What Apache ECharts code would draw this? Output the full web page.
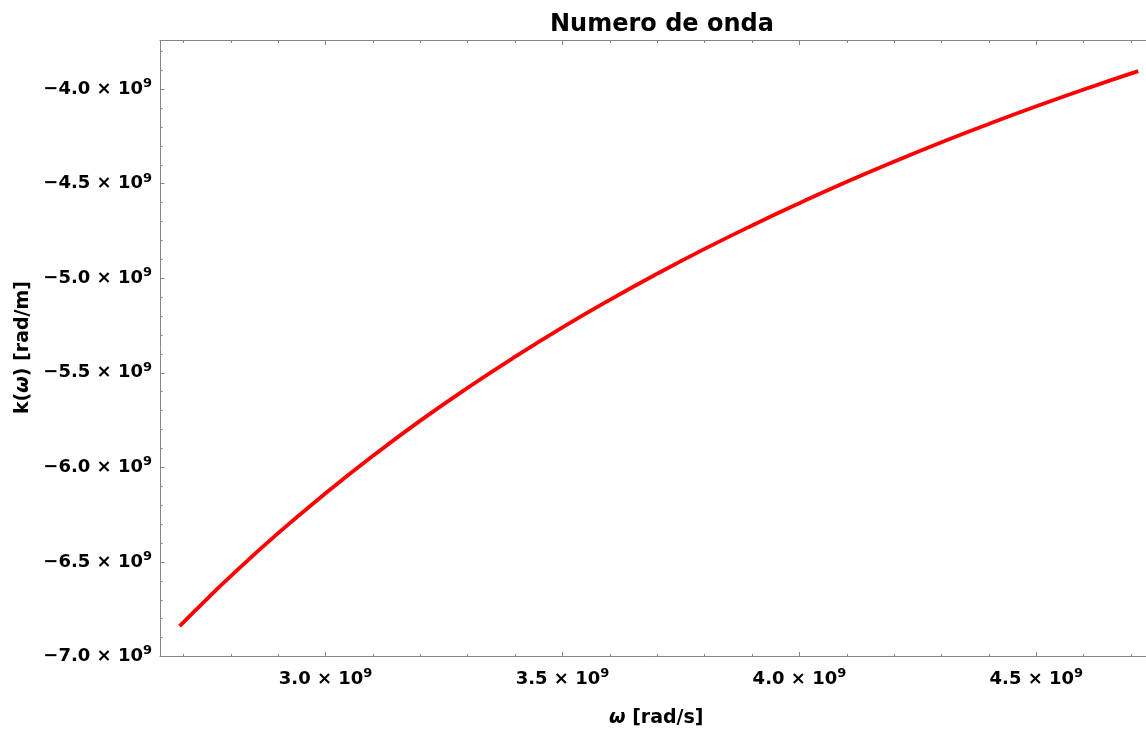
<!DOCTYPE html>
<html>
<head>
<meta charset="utf-8">
<script src="https://cdn.jsdelivr.net/npm/echarts@6/dist/echarts.min.js"></script>
<style>
html, body { margin: 0; padding: 0; background: #ffffff; overflow: hidden; width: 1146px; height: 731px; }
#chart { width: 1146px; height: 731px; overflow: hidden; }
</style>
</head>
<body>
<div id="chart"></div>
<script>
// ---- data ----
const omega = [2.692e9, 2.75e9, 2.8e9, 2.9e9, 3.0e9, 3.1e9, 3.2e9, 3.3e9, 3.4e9, 3.5e9, 3.6e9,
               3.7e9, 3.8e9, 3.9e9, 4.0e9, 4.1e9, 4.2e9, 4.3e9, 4.4e9, 4.5e9, 4.6e9, 4.715e9];
const kOmega = [-6.839e9, -6.695e9, -6.575e9, -6.348e9, -6.137e9, -5.939e9, -5.753e9, -5.579e9,
                -5.415e9, -5.260e9, -5.114e9, -4.976e9, -4.845e9, -4.721e9, -4.603e9, -4.490e9,
                -4.383e9, -4.281e9, -4.184e9, -4.091e9, -4.002e9, -3.905e9];

const xMajorTicks = [3.0e9, 3.5e9, 4.0e9, 4.5e9];
const xMinorTicks = [2.7e9, 2.8e9, 2.9e9, 3.1e9, 3.2e9, 3.3e9, 3.4e9, 3.6e9, 3.7e9, 3.8e9, 3.9e9,
                     4.1e9, 4.2e9, 4.3e9, 4.4e9, 4.6e9, 4.7e9];
const yMajorTicks = [-7.0e9, -6.5e9, -6.0e9, -5.5e9, -5.0e9, -4.5e9, -4.0e9];
const yMinorTicks = [-6.9e9, -6.8e9, -6.7e9, -6.6e9, -6.4e9, -6.3e9, -6.2e9, -6.1e9, -5.9e9, -5.8e9,
                     -5.7e9, -5.6e9, -5.4e9, -5.3e9, -5.2e9, -5.1e9, -4.9e9, -4.8e9, -4.7e9, -4.6e9,
                     -4.4e9, -4.3e9, -4.2e9, -4.1e9, -3.9e9, -3.8e9];

const xRange = [2.6506e9, 4.7314e9];
const yRange = [-7.0e9, -3.743e9];

const titleText = 'Numero de onda';
const xAxisName = '{i|ω} {n|[rad/s]}';
const yAxisName = '{n|k(}{i|ω}{n|) [rad/m]}';

// ---- chart ----
const FONT = 'DejaVu Sans';
const AXIS_COLOR = '#858585';

function tickLabel(v) {
  const s = (v / 1e9).toFixed(1).replace('-', '\u2212');
  return '{m|' + s + ' \u00d7 10}{s|9}';
}
const labelRich = {
  m: { fontFamily: FONT, fontWeight: 'bold', fontSize: 18, color: '#000', lineHeight: 24 },
  s: { fontFamily: FONT, fontWeight: 'bold', fontSize: 13, color: '#000', lineHeight: 8, verticalAlign: 'top' }
};
const nameRich = {
  n: { fontFamily: FONT, fontWeight: 'bold', fontSize: 19, color: '#000' },
  i: { fontFamily: FONT, fontWeight: 'bold', fontStyle: 'italic', fontSize: 19, color: '#000' }
};

const gridRect = { left: 160, top: 40.5, width: 986, height: 616, outerBoundsMode: 'none', containLabel: false };

function axisBase(extra) {
  return Object.assign({
    type: 'value',
    splitLine: { show: false },
    axisPointer: { show: false },
    nameMoveOverlap: false
  }, extra);
}

const option = {
  animation: false,
  title: {
    text: titleText,
    left: 545,
    top: 8,
    textStyle: { fontFamily: FONT, fontWeight: 'bold', fontSize: 24, color: '#000' }
  },
  graphic: [
    { type: 'text', left: 609, top: 709, silent: true,
      style: { text: xAxisName, rich: nameRich, fontFamily: FONT, fontSize: 19, fontWeight: 'bold', fill: '#000' } },
    { type: 'text', left: 14, top: 281, rotation: Math.PI / 2, silent: true,
      style: { text: yAxisName, rich: nameRich, fontFamily: FONT, fontSize: 19, fontWeight: 'bold', fill: '#000' } }
  ],
  grid: [Object.assign({}, gridRect), Object.assign({}, gridRect)],
  xAxis: [
    axisBase({
      gridIndex: 0, position: 'bottom', min: xRange[0], max: xRange[1],
      axisLine: { show: true, lineStyle: { color: AXIS_COLOR, width: 1 } },
      axisTick: { show: true, inside: true, length: 4.5, customValues: xMajorTicks, lineStyle: { color: AXIS_COLOR } },
      axisLabel: { show: true, customValues: xMajorTicks, formatter: tickLabel, rich: labelRich, margin: 11,
                   fontFamily: FONT, fontWeight: 'bold', fontSize: 18, color: '#000' }
    }),
    axisBase({
      gridIndex: 0, position: 'top', min: xRange[0], max: xRange[1],
      axisLine: { show: true, lineStyle: { color: AXIS_COLOR, width: 1 } },
      axisTick: { show: true, inside: true, length: 4.5, customValues: xMajorTicks, lineStyle: { color: AXIS_COLOR } },
      axisLabel: { show: false }
    }),
    axisBase({
      gridIndex: 1, position: 'bottom', min: xRange[0], max: xRange[1],
      axisLine: { show: false },
      axisTick: { show: true, inside: true, length: 2.5, customValues: xMinorTicks, lineStyle: { color: AXIS_COLOR } },
      axisLabel: { show: false }
    }),
    axisBase({
      gridIndex: 1, position: 'top', min: xRange[0], max: xRange[1],
      axisLine: { show: false },
      axisTick: { show: true, inside: true, length: 2.5, customValues: xMinorTicks, lineStyle: { color: AXIS_COLOR } },
      axisLabel: { show: false }
    })
  ],
  yAxis: [
    axisBase({
      gridIndex: 0, position: 'left', min: yRange[0], max: yRange[1],
      axisLine: { show: true, lineStyle: { color: AXIS_COLOR, width: 1 } },
      axisTick: { show: true, inside: true, length: 4.5, customValues: yMajorTicks, lineStyle: { color: AXIS_COLOR } },
      axisLabel: { show: true, customValues: yMajorTicks, formatter: tickLabel, rich: labelRich, margin: 8,
                   fontFamily: FONT, fontWeight: 'bold', fontSize: 18, color: '#000' }
    }),
    axisBase({
      gridIndex: 1, position: 'left', min: yRange[0], max: yRange[1],
      axisLine: { show: false },
      axisTick: { show: true, inside: true, length: 2.5, customValues: yMinorTicks, lineStyle: { color: AXIS_COLOR } },
      axisLabel: { show: false }
    })
  ],
  series: [{
    type: 'line',
    xAxisIndex: 0,
    yAxisIndex: 0,
    data: omega.map((w, i) => [w, kOmega[i]]),
    showSymbol: false,
    smooth: true,
    lineStyle: { color: '#ff0000', width: 3.8 },
    silent: true
  }]
};

const chart = echarts.init(document.getElementById('chart'));
chart.setOption(option);
</script>
</body>
</html>
